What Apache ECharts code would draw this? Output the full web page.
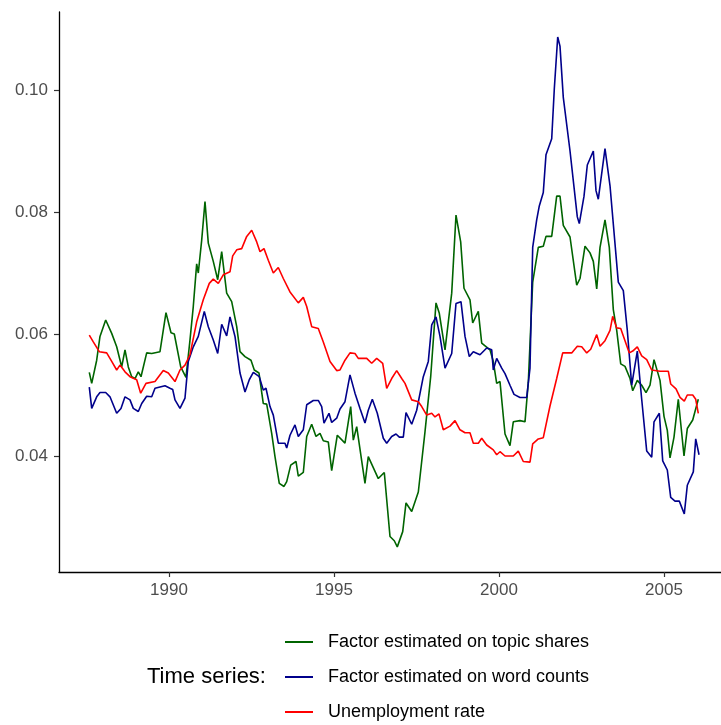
<!DOCTYPE html>
<html>
<head>
<meta charset="utf-8">
<script src="https://cdn.jsdelivr.net/npm/echarts@6/dist/echarts.min.js"></script>
<style>
html,body{margin:0;padding:0;background:#fff;}
#chart{width:721px;height:725px;}
</style>
</head>
<body>
<div id="chart"></div>
<script>
const xTicks = [1990, 1995, 2000, 2005];
const yTicks = [0.04, 0.06, 0.08, 0.10];
const seriesNames = ['Factor estimated on topic shares', 'Factor estimated on word counts', 'Unemployment rate'];

const topicShares = [
[1987.585,0.0537],[1987.658,0.0519],[1987.809,0.0557],[1987.909,0.0596],[1988.082,0.0623],[1988.264,0.0601],
[1988.415,0.0579],[1988.567,0.0546],[1988.667,0.0574],[1988.767,0.0546],[1988.870,0.0530],[1988.970,0.0527],
[1989.070,0.0538],[1989.152,0.0530],[1989.324,0.0569],[1989.476,0.0568],[1989.727,0.0571],[1989.909,0.0635],
[1990.061,0.0602],[1990.161,0.0600],[1990.355,0.0546],[1990.515,0.0529],[1990.636,0.0590],[1990.736,0.0645],
[1990.839,0.0715],[1990.888,0.0700],[1990.991,0.0754],[1991.091,0.0817],[1991.191,0.0749],[1991.342,0.0719],
[1991.476,0.0689],[1991.597,0.0735],[1991.748,0.0667],[1991.900,0.0653],[1992.052,0.0612],[1992.152,0.0571],
[1992.303,0.0563],[1992.485,0.0557],[1992.585,0.0541],[1992.727,0.0536],[1992.858,0.0486],[1992.961,0.0485],
[1993.112,0.0437],[1993.212,0.0399],[1993.342,0.0355],[1993.485,0.0350],[1993.567,0.0358],[1993.688,0.0385],
[1993.848,0.0391],[1993.918,0.0367],[1994.070,0.0373],[1994.173,0.0432],[1994.324,0.0452],[1994.455,0.0432],
[1994.576,0.0437],[1994.676,0.0425],[1994.827,0.0423],[1994.930,0.0376],[1995.100,0.0434],[1995.333,0.0421],
[1995.506,0.0481],[1995.585,0.0426],[1995.688,0.0448],[1995.939,0.0355],[1996.039,0.0399],[1996.342,0.0363],
[1996.524,0.0373],[1996.697,0.0268],[1996.827,0.0261],[1996.918,0.0251],[1997.082,0.0276],[1997.182,0.0323],
[1997.355,0.0309],[1997.555,0.0341],[1997.758,0.0440],[1997.930,0.0530],[1998.091,0.0651],[1998.191,0.0634],
[1998.364,0.0574],[1998.567,0.0667],[1998.697,0.0795],[1998.839,0.0751],[1998.939,0.0675],[1999.121,0.0656],
[1999.203,0.0618],[1999.373,0.0637],[1999.476,0.0585],[1999.727,0.0574],[1999.827,0.0555],[1999.930,0.0519],
[2000.030,0.0522],[2000.182,0.0436],[2000.333,0.0417],[2000.433,0.0456],[2000.636,0.0458],[2000.788,0.0456],
[2000.888,0.0521],[2001.021,0.0685],[2001.191,0.0742],[2001.342,0.0744],[2001.424,0.0760],[2001.597,0.0760],
[2001.748,0.0826],[2001.848,0.0826],[2001.948,0.0778],[2002.152,0.0759],[2002.355,0.0680],[2002.455,0.0691],
[2002.606,0.0744],[2002.758,0.0733],[2002.858,0.0719],[2002.961,0.0674],[2003.061,0.0742],[2003.212,0.0787],
[2003.342,0.0742],[2003.464,0.0640],[2003.567,0.0606],[2003.688,0.0551],[2003.818,0.0547],[2003.970,0.0527],
[2004.052,0.0507],[2004.191,0.0524],[2004.324,0.0516],[2004.455,0.0504],[2004.576,0.0516],[2004.697,0.0558],
[2004.879,0.0524],[2005.000,0.0465],[2005.100,0.0442],[2005.182,0.0397],[2005.303,0.0431],[2005.433,0.0493],
[2005.606,0.0400],[2005.706,0.0445],[2005.870,0.0459],[2006.039,0.0493]
];

const wordCounts = [
[1987.585,0.0513],[1987.658,0.0478],[1987.809,0.0497],[1987.909,0.0504],[1988.082,0.0504],[1988.212,0.0497],
[1988.415,0.0470],[1988.545,0.0478],[1988.667,0.0497],[1988.818,0.0492],[1988.918,0.0478],[1989.070,0.0473],
[1989.173,0.0486],[1989.324,0.0498],[1989.476,0.0497],[1989.576,0.0511],[1989.727,0.0513],[1989.879,0.0515],
[1990.030,0.0511],[1990.112,0.0509],[1990.182,0.0492],[1990.333,0.0478],[1990.485,0.0495],[1990.585,0.0555],
[1990.736,0.0579],[1990.888,0.0596],[1991.070,0.0637],[1991.191,0.0612],[1991.342,0.0590],[1991.476,0.0568],
[1991.597,0.0616],[1991.748,0.0597],[1991.848,0.0628],[1992.000,0.0596],[1992.152,0.0536],[1992.303,0.0505],
[1992.433,0.0525],[1992.555,0.0537],[1992.736,0.0530],[1992.858,0.0508],[1992.939,0.0511],[1993.061,0.0481],
[1993.161,0.0467],[1993.312,0.0421],[1993.515,0.0421],[1993.567,0.0413],[1993.667,0.0434],[1993.818,0.0451],
[1993.918,0.0432],[1994.070,0.0443],[1994.173,0.0484],[1994.373,0.0491],[1994.524,0.0491],[1994.627,0.0481],
[1994.697,0.0454],[1994.848,0.0470],[1994.930,0.0455],[1995.082,0.0462],[1995.182,0.0477],[1995.333,0.0489],
[1995.485,0.0533],[1995.636,0.0503],[1995.788,0.0478],[1995.939,0.0454],[1996.039,0.0475],[1996.161,0.0493],
[1996.312,0.0470],[1996.494,0.0429],[1996.597,0.0421],[1996.748,0.0432],[1996.879,0.0436],[1996.979,0.0431],
[1997.100,0.0431],[1997.182,0.0471],[1997.355,0.0452],[1997.506,0.0475],[1997.706,0.0530],[1997.858,0.0555],
[1997.961,0.0615],[1998.091,0.0628],[1998.212,0.0596],[1998.364,0.0544],[1998.567,0.0568],[1998.697,0.0650],
[1998.848,0.0653],[1998.970,0.0596],[1999.100,0.0563],[1999.221,0.0571],[1999.424,0.0566],[1999.627,0.0577],
[1999.779,0.0574],[1999.827,0.0541],[1999.930,0.0560],[2000.082,0.0544],[2000.182,0.0535],[2000.333,0.0516],
[2000.455,0.0501],[2000.636,0.0496],[2000.839,0.0496],[2000.939,0.0544],[2001.021,0.0742],[2001.142,0.0787],
[2001.221,0.0810],[2001.342,0.0832],[2001.424,0.0894],[2001.597,0.0920],[2001.676,0.1002],[2001.779,0.1087],
[2001.848,0.1072],[2001.948,0.0988],[2002.152,0.0900],[2002.373,0.0792],[2002.433,0.0781],[2002.576,0.0826],
[2002.676,0.0877],[2002.858,0.0900],[2002.939,0.0835],[2003.009,0.0821],[2003.212,0.0904],[2003.364,0.0843],
[2003.615,0.0685],[2003.767,0.0671],[2003.888,0.0606],[2004.021,0.0516],[2004.191,0.0572],[2004.324,0.0493],
[2004.476,0.0408],[2004.627,0.0398],[2004.697,0.0456],[2004.858,0.0470],[2004.961,0.0392],[2005.100,0.0377],
[2005.203,0.0332],[2005.333,0.0326],[2005.464,0.0326],[2005.615,0.0305],[2005.706,0.0352],[2005.888,0.0374],
[2005.961,0.0428],[2006.061,0.0402]
];

const unemployment = [
[1987.585,0.0598],[1987.706,0.0587],[1987.888,0.0571],[1988.112,0.0569],[1988.264,0.0555],[1988.415,0.0541],
[1988.515,0.0549],[1988.667,0.0538],[1988.818,0.0530],[1989.021,0.0525],[1989.142,0.0503],[1989.303,0.0519],
[1989.576,0.0522],[1989.827,0.0540],[1989.979,0.0536],[1990.182,0.0522],[1990.333,0.0541],[1990.485,0.0549],
[1990.636,0.0566],[1990.839,0.0620],[1991.039,0.0656],[1991.221,0.0683],[1991.342,0.0690],[1991.494,0.0683],
[1991.645,0.0697],[1991.848,0.0702],[1991.930,0.0728],[1992.052,0.0738],[1992.203,0.0740],[1992.355,0.0760],
[1992.506,0.0770],[1992.658,0.0751],[1992.758,0.0735],[1992.879,0.0740],[1993.009,0.0721],[1993.161,0.0700],
[1993.312,0.0709],[1993.464,0.0691],[1993.667,0.0669],[1993.918,0.0651],[1994.070,0.0660],[1994.173,0.0645],
[1994.324,0.0612],[1994.524,0.0609],[1994.676,0.0587],[1994.879,0.0555],[1995.082,0.0540],[1995.182,0.0541],
[1995.333,0.0557],[1995.485,0.0569],[1995.636,0.0568],[1995.736,0.0560],[1995.991,0.0560],[1996.142,0.0552],
[1996.294,0.0560],[1996.476,0.0552],[1996.597,0.0511],[1996.748,0.0527],[1996.900,0.0540],[1997.052,0.0527],
[1997.152,0.0519],[1997.355,0.0492],[1997.555,0.0489],[1997.658,0.0481],[1997.809,0.0467],[1997.961,0.0470],
[1998.061,0.0464],[1998.182,0.0469],[1998.312,0.0443],[1998.515,0.0449],[1998.667,0.0458],[1998.818,0.0443],
[1998.970,0.0438],[1999.121,0.0438],[1999.221,0.0421],[1999.373,0.0421],[1999.476,0.0429],[1999.627,0.0418],
[1999.827,0.0410],[1999.930,0.0402],[2000.030,0.0407],[2000.182,0.0400],[2000.433,0.0400],[2000.585,0.0408],
[2000.736,0.0391],[2000.939,0.0390],[2001.021,0.0420],[2001.191,0.0428],[2001.342,0.0430],[2001.545,0.0482],
[2001.748,0.0527],[2001.930,0.0569],[2002.203,0.0569],[2002.373,0.0580],[2002.506,0.0579],[2002.658,0.0569],
[2002.779,0.0575],[2002.961,0.0599],[2003.061,0.0580],[2003.212,0.0589],[2003.364,0.0606],[2003.445,0.0629],
[2003.567,0.0610],[2003.688,0.0609],[2003.818,0.0589],[2003.948,0.0569],[2004.052,0.0572],[2004.191,0.0579],
[2004.324,0.0564],[2004.476,0.0558],[2004.627,0.0541],[2004.879,0.0539],[2005.130,0.0539],[2005.203,0.0518],
[2005.364,0.0510],[2005.485,0.0496],[2005.615,0.0490],[2005.706,0.0500],[2005.870,0.0500],[2005.961,0.0493],
[2006.039,0.0470]
];

const colors = ['#006400', '#00008B', '#FF0000'];
const FONT = '"Liberation Sans", Arial, Helvetica, sans-serif';

const chart = echarts.init(document.getElementById('chart'), null, {renderer: 'canvas'});
const dataSets = [topicShares, wordCounts, unemployment];

chart.setOption({
  animation: false,
  backgroundColor: '#ffffff',
  grid: {left: 59, top: 12, right: 0, bottom: 153, containLabel: false},
  xAxis: {
    type: 'value',
    min: 1986.667,
    max: 2006.727,
    axisLine: {show: true, lineStyle: {color: '#000', width: 1.3}},
    axisTick: {show: true, length: 5, lineStyle: {color: '#333', width: 1.2}, customValues: xTicks},
    axisLabel: {color: '#4D4D4D', fontSize: 17, fontFamily: FONT, margin: 10, customValues: xTicks,
      formatter: v => String(v)},
    splitLine: {show: false}
  },
  yAxis: {
    type: 'value',
    min: 0.02098,
    max: 0.11279,
    axisLine: {show: true, lineStyle: {color: '#000', width: 1.3}},
    axisTick: {show: true, length: 5, lineStyle: {color: '#333', width: 1.2}, customValues: yTicks},
    axisLabel: {color: '#4D4D4D', fontSize: 17, fontFamily: FONT, margin: 11, customValues: yTicks,
      formatter: v => v.toFixed(2)},
    splitLine: {show: false}
  },
  legend: {
    orient: 'vertical',
    left: 280,
    top: 626,
    height: 110,
    itemWidth: 28,
    itemHeight: 2,
    itemGap: 13,
    icon: 'rect',
    textStyle: {fontSize: 18, fontFamily: FONT, color: '#000', lineHeight: 22, padding: [0, 0, 0, 10]},
    data: seriesNames
  },
  graphic: [{
    type: 'text',
    left: 147,
    top: 666,
    style: {text: 'Time series:', fontSize: 22, fontFamily: FONT, fill: '#000'}
  }],
  series: seriesNames.map((name, i) => ({
    name: name,
    type: 'line',
    data: dataSets[i],
    symbol: 'none',
    showSymbol: false,
    lineStyle: {color: colors[i], width: 1.6},
    itemStyle: {color: colors[i]}
  }))
});
</script>
</body>
</html>
